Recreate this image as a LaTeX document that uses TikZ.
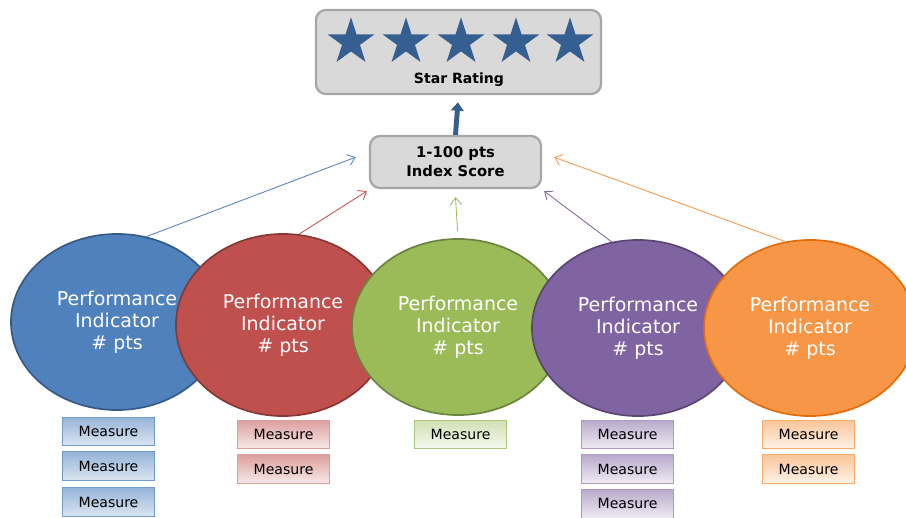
\documentclass[tikz,border=0pt]{standalone}
\usepackage{fontspec}
\setmainfont{DejaVu Sans}
\usetikzlibrary{shapes.geometric,arrows.meta,positioning}
\definecolor{starblue}{HTML}{365F91}
\definecolor{boxgray}{HTML}{D9D9D9}
\definecolor{boxline}{HTML}{A6A6A6}
\definecolor{piblue}{HTML}{4F81BD}
\definecolor{pired}{HTML}{C0504D}
\definecolor{pigreen}{HTML}{9BBB59}
\definecolor{pipurple}{HTML}{8064A2}
\definecolor{piorange}{HTML}{F79646}
\definecolor{piorangeline}{HTML}{E46C0A}
\tikzset
{
    scorebox/.style  = {rectangle, rounded corners=0.25cm, draw=boxline, fill=boxgray, line width=1.6pt, align=center, font=\fontsize{10.5}{13.5}\selectfont\bfseries},
    ratingstar/.style = {star, star points=5, star point ratio=2.618, fill=starblue, minimum size=1.23cm, inner sep=0pt},
    indicator/.style = {ellipse, minimum width=5.3cm, minimum height=4.4cm, inner sep=0pt, line width=1.2pt, text=white, align=center, font=\fontsize{13.5}{15.6}\selectfont},
    measure/.style   = {rectangle, minimum width=2.3cm, minimum height=0.72cm, inner sep=0pt, line width=0.8pt, font=\fontsize{10}{12}\selectfont},
    feed/.style      = {-{Straight Barb[length=5pt,width=8pt]}, line width=0.6pt}
}
\begin{document}
\begin{tikzpicture}[x=0.025cm, y=-0.025cm]
    \clip (0,0) rectangle (906,518);
    \useasboundingbox (0,0) rectangle (906,518);

    % star rating
    \node [scorebox, minimum width=7.125cm, minimum height=2.1cm] (rating) at (458.5,52) {};
    \foreach \i/\x in {1/351, 2/406, 3/461, 4/516, 5/570}
        \node [ratingstar] (star\i) at (\x,42) {};
    \node [font=\fontsize{10}{12}\selectfont\bfseries] (ratinglabel) at (459,80) {Star Rating};

    % index score
    \node [scorebox, minimum width=4.275cm, minimum height=1.3cm] (score) at (455.5,162) {1-100 pts\\Index Score};
    \draw [-{Triangle[length=6pt,width=9pt]}, line width=3.5pt, starblue, shorten >=0.18cm] (score.north) -- (rating.south);

    % performance indicators
    \node [indicator, fill=piblue, draw=piblue!70!black] (pi1) at (117,322) {Performance\\Indicator\\\# pts};
    \node [indicator, fill=pired, draw=pired!70!black, minimum width=5.35cm, minimum height=4.55cm] (pi2) at (283,325) {Performance\\Indicator\\\# pts};
    \node [indicator, fill=pigreen, draw=pigreen!70!black] (pi3) at (458,327) {Performance\\Indicator\\\# pts};
    \node [indicator, fill=pipurple, draw=pipurple!70!black] (pi4) at (638,328) {Performance\\Indicator\\\# pts};
    \node [indicator, fill=piorange, draw=piorangeline] (pi5) at (810,328) {Performance\\Indicator\\\# pts};

    \draw [feed, piblue] (pi1.71) -- ([xshift=-0.33cm, yshift=0.12cm]score.west);
    \draw [feed, pired] (pi2.80) -- ([xshift=-0.05cm, yshift=-0.05cm]score.south west);
    \draw [feed, pigreen, shorten <=0.17cm] (pi3.north) -- ([yshift=-0.2cm]score.south);
    \draw [feed, pipurple] (pi4.107) -- ([xshift=0.05cm, yshift=-0.05cm]score.south east);
    \draw [feed, piorange] (pi5.106) -- ([xshift=0.3cm, yshift=0.12cm]score.east);

    % measures
    \node [measure, draw=piblue!80, top color=piblue!60, bottom color=piblue!20] (m1a) at (108.5,431.5) {Measure};
    \node [measure, draw=piblue!80, top color=piblue!60, bottom color=piblue!20, below=0.12cm of m1a] (m1b) {Measure};
    \node [measure, draw=piblue!80, top color=piblue!60, bottom color=piblue!20, below=0.15cm of m1b] (m1c) {Measure};
    \node [measure, draw=pired!55, top color=pired!55, bottom color=pired!12] (m2a) at (283.5,434.5) {Measure};
    \node [measure, draw=pired!55, top color=pired!55, bottom color=pired!12, below=0.12cm of m2a] (m2b) {Measure};
    \node [measure, draw=pigreen!80, top color=pigreen!45, bottom color=pigreen!10] (m3a) at (460.5,434.5) {Measure};
    \node [measure, draw=pipurple!65, top color=pipurple!55, bottom color=pipurple!12] (m4a) at (627.5,434.5) {Measure};
    \node [measure, draw=pipurple!65, top color=pipurple!55, bottom color=pipurple!12, below=0.12cm of m4a] (m4b) {Measure};
    \node [measure, draw=pipurple!65, top color=pipurple!55, bottom color=pipurple!12, below=0.12cm of m4b] (m4c) {Measure};
    \node [measure, draw=piorange!80, top color=piorange!55, bottom color=piorange!12] (m5a) at (808.5,434.5) {Measure};
    \node [measure, draw=piorange!80, top color=piorange!55, bottom color=piorange!12, below=0.12cm of m5a] (m5b) {Measure};
\end{tikzpicture}
\end{document}
